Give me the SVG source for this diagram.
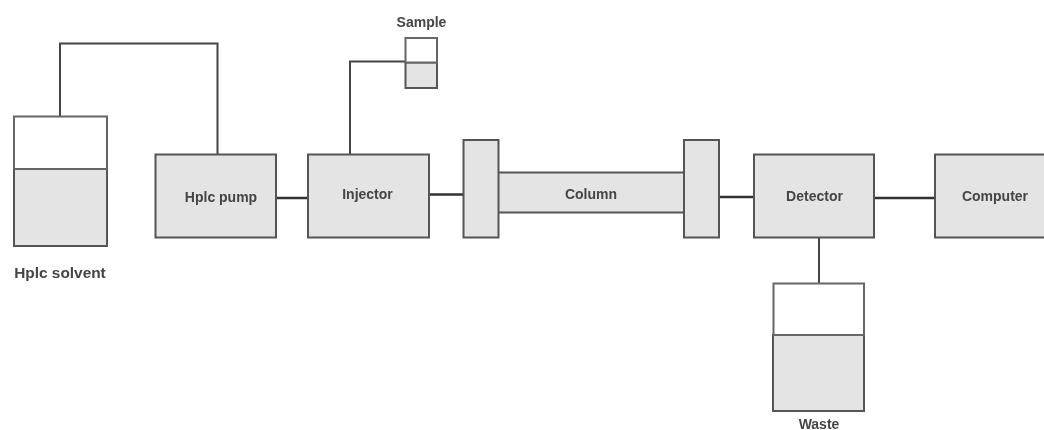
<svg xmlns="http://www.w3.org/2000/svg" width="1044" height="430" viewBox="0 0 1044 430">
<style>
.box{fill:#e4e4e4;stroke:#555;stroke-width:2}
.top{fill:#fff;stroke:#666;stroke-width:2}
.wire{fill:none;stroke:#444;stroke-width:2}
.wire2{fill:none;stroke:#333;stroke-width:2.4}
text{font-family:"Liberation Sans",Arial,sans-serif;font-size:14px;font-weight:700;fill:#444;text-anchor:middle}
svg>g{filter:url(#soft)}
</style>
<defs><filter id="soft" x="-20%" y="-20%" width="140%" height="140%"><feGaussianBlur stdDeviation="0.45"/></filter></defs>
<rect width="1044" height="430" fill="#fff"/>
<g id="connectors">
<path class="wire" d="M60 116V43.500H217.500V154.500"/>
<path class="wire" d="M350 154.500V61.500H406"/>
<path class="wire2" d="M274 198H308"/>
<path class="wire2" d="M429 194.500H463"/>
<path class="wire2" d="M717 197H754"/>
<path class="wire2" d="M873 198H935"/>
<path class="wire" d="M819 237V283"/>
</g>
<g id="hplc-solvent">
<rect class="box" x="14" y="169" width="93" height="77"/>
<rect class="top" x="14" y="116.500" width="93" height="52.500"/>
<text x="60" y="278" style="font-size:15.400px">Hplc solvent</text>
</g>
<g id="hplc-pump">
<rect class="box" x="155.500" y="154.500" width="120.500" height="83"/>
<text x="221" y="202">Hplc pump</text>
</g>
<g id="injector">
<rect class="box" x="308" y="154.500" width="121" height="83"/>
<text x="367.500" y="199">Injector</text>
</g>
<g id="sample">
<rect class="box" x="405.500" y="62.500" width="31.500" height="25.500"/>
<rect class="top" x="405.500" y="38" width="31.500" height="24.500"/>
<text x="421.500" y="26.500">Sample</text>
</g>
<g id="column">
<rect class="box" x="498" y="172.500" width="186" height="40"/>
<rect class="box" x="463.500" y="140" width="35" height="97.500"/>
<rect class="box" x="684" y="140" width="35" height="97.500"/>
<text x="591" y="199">Column</text>
</g>
<g id="detector">
<rect class="box" x="754" y="154.500" width="120" height="83"/>
<text x="814.500" y="200.500">Detector</text>
</g>
<g id="computer">
<rect class="box" x="935" y="154.500" width="112" height="83"/>
<text x="995" y="200.500">Computer</text>
</g>
<g id="waste">
<rect class="box" x="773" y="335" width="91" height="76"/>
<rect class="top" x="773.500" y="283.500" width="90.500" height="51.500"/>
<text x="819" y="429">Waste</text>
</g>
</svg>
